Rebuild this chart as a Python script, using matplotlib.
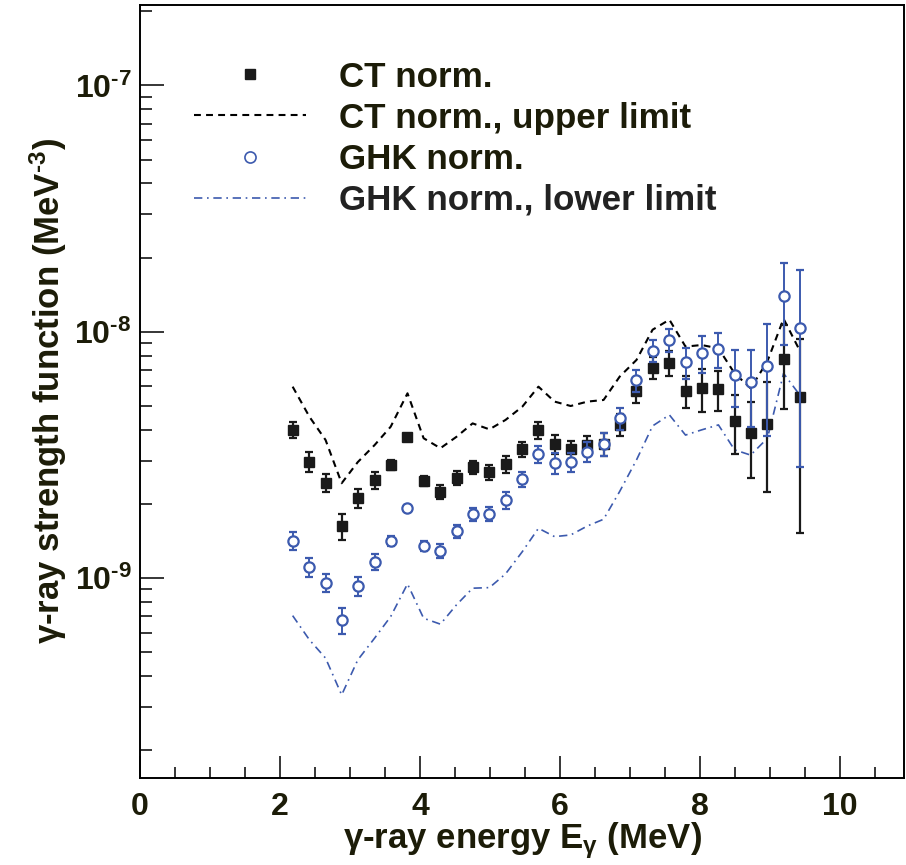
import numpy as np
import matplotlib
matplotlib.use("Agg")
import matplotlib.pyplot as plt
from matplotlib.ticker import MultipleLocator, LogLocator, FixedLocator, FuncFormatter, NullFormatter
from matplotlib.lines import Line2D

plt.rcParams["font.family"] = ["Liberation Sans", "DejaVu Sans"]
plt.rcParams["font.weight"] = "bold"
plt.rcParams["axes.labelweight"] = "bold"
plt.rcParams["mathtext.fontset"] = "custom"
plt.rcParams["mathtext.rm"] = "Liberation Sans:bold"
plt.rcParams["mathtext.default"] = "regular"

# gamma-ray energies (MeV), one per bin
energy = [2.18, 2.42, 2.65, 2.88, 3.11, 3.35, 3.58, 3.82, 4.05, 4.29, 4.52,
          4.75, 4.99, 5.22, 5.46, 5.69, 5.92, 6.15, 6.39, 6.62, 6.85, 7.09,
          7.32, 7.56, 7.79, 8.02, 8.26, 8.49, 8.72, 8.96, 9.19, 9.43]

# CT normalisation, units of 1e-9 MeV^-3
ct_val = [4.00, 2.97, 2.44, 1.63, 2.11, 2.50, 2.89, 3.75, 2.48, 2.24, 2.55,
          2.82, 2.69, 2.90, 3.34, 3.98, 3.51, 3.34, 3.47, 3.51, 4.19, 5.77,
          7.15, 7.49, 5.77, 5.90, 5.84, 4.36, 3.87, 4.23, 7.73, 5.42]
ct_err = [0.30, 0.28, 0.21, 0.20, 0.19, 0.19, 0.13, 0.10, 0.12, 0.15, 0.17,
          0.18, 0.18, 0.23, 0.23, 0.31, 0.31, 0.28, 0.32, 0.39, 0.43, 0.63,
          0.73, 0.87, 0.86, 1.16, 1.09, 1.16, 1.33, 2.00, 2.88, 3.90]
ct_upper = [5.99, 4.52, 3.64, 2.43, 2.96, 3.47, 4.12, 5.63, 3.70, 3.37, 3.75,
            4.25, 4.02, 4.39, 4.97, 5.99, 5.21, 5.00, 5.21, 5.29, 6.58, 7.69,
            10.2, 11.2, 8.71, 8.84, 8.57, 6.79, 5.90, 7.60, 11.3, 8.30]

# GHK normalisation, units of 1e-9 MeV^-3
ghk_val = [1.417, 1.111, 0.960, 0.677, 0.931, 1.164, 1.417, 1.934, 1.352,
           1.290, 1.550, 1.818, 1.823, 2.072, 2.520, 3.190, 2.940, 2.960,
           3.260, 3.510, 4.460, 6.370, 8.380, 9.260, 7.520, 8.180, 8.490,
           6.680, 6.280, 7.270, 13.97, 10.33]
ghk_err = [0.12, 0.10, 0.079, 0.082, 0.083, 0.087, 0.067, 0.05, 0.063, 0.084,
           0.10, 0.115, 0.116, 0.17, 0.18, 0.25, 0.28, 0.27, 0.31, 0.39, 0.47,
           0.65, 0.85, 1.01, 1.11, 1.40, 1.39, 1.74, 2.16, 3.50, 5.10, 7.50]
ghk_lower = [0.705, 0.562, 0.474, 0.336, 0.466, 0.571, 0.699, 0.948, 0.688,
             0.651, 0.780, 0.911, 0.916, 1.041, 1.282, 1.595, 1.475, 1.498,
             1.630, 1.735, 2.250, 3.020, 4.150, 4.600, 3.810, 4.000, 4.190,
             3.320, 3.160, 3.700, 6.780, 5.500]

y_major = [1e-9, 1e-8, 1e-7]

scale = 1e-9
E = np.array(energy)
txt = "#1c1c08"
blue = "#3c5aae"
black = "#1a1a1a"
HY = "\u2010"  # short hyphen for exponents, as in the original

fig = plt.figure(figsize=(9.06, 8.65), dpi=100)
ax = fig.add_axes([0.1545, 0.1009, 0.8433, 0.8933])

ax.plot(E, np.array(ct_upper) * scale, color="black", lw=1.5,
        dashes=[3.3, 2.5])
ax.plot(E, np.array(ghk_lower) * scale, color=blue, lw=1.2,
        dashes=[5.0, 2.8, 1.0, 2.8])

ax.errorbar(E, np.array(ct_val) * scale, yerr=np.array(ct_err) * scale,
            fmt="s", ms=6.8, color=black, mec=black, elinewidth=1.6,
            capsize=2.6, capthick=1.6, zorder=3)
ax.errorbar(E, np.array(ghk_val) * scale, yerr=np.array(ghk_err) * scale,
            fmt="o", ms=7.4, color=blue, mfc="white", mec=blue, mew=1.6,
            elinewidth=1.4, capsize=2.6, capthick=1.4, zorder=4)

ax.set_yscale("log")
ax.set_xlim(0, 10.91)
ax.set_ylim(1.55e-10, 2.12e-7)

ax.xaxis.set_major_locator(MultipleLocator(2))
ax.xaxis.set_minor_locator(MultipleLocator(0.5))
ax.yaxis.set_major_locator(FixedLocator(y_major))
ax.yaxis.set_minor_locator(LogLocator(base=10, subs=np.arange(2, 10)))
ax.yaxis.set_minor_formatter(NullFormatter())
ax.yaxis.set_major_formatter(
    FuncFormatter(lambda v, _: r"$10^{%s%d}$" % (HY, abs(round(np.log10(v))))))

ax.tick_params(which="both", direction="in", top=False, right=False,
               width=1.1, colors="black", labelcolor=txt, labelsize=23)
ax.tick_params(axis="x", which="major", length=16, pad=10)
ax.tick_params(axis="x", which="minor", length=8)
ax.tick_params(axis="y", which="major", length=17.5, pad=6)
ax.tick_params(axis="y", which="minor", length=8.5)
for s in ax.spines.values():
    s.set_linewidth(1.4)

ax.set_xlabel(r"γ-ray energy E$_{\gamma}$ (MeV)", fontsize=25,
              fontweight="bold", color=txt, labelpad=-1)
ax.set_ylabel("γ-ray strength function (MeV$^{%s3}$)" % HY, fontsize=25,
              fontweight="bold", color=txt, labelpad=4)

handles = [
    Line2D([], [], ls="none", marker="s", ms=7.5, color=black),
    Line2D([], [], color="black", lw=1.5, dashes=[3.3, 2.5]),
    Line2D([], [], ls="none", marker="o", ms=8.0, mfc="white", mec=blue,
           mew=1.2),
    Line2D([], [], color=blue, lw=1.2, dashes=[5.0, 2.8, 1.0, 2.8]),
]
labels = ["CT norm.", "CT norm., upper limit", "GHK norm.",
          "GHK norm., lower limit"]
leg = ax.legend(handles, labels, loc="upper left",
                bbox_to_anchor=(0.0707, 0.928), borderaxespad=0,
                borderpad=0, frameon=False, fontsize=25.2,
                handlelength=3.2, handletextpad=0.94, labelspacing=0.23)
for t in leg.get_texts():
    t.set_color(txt)
leg.get_texts()[3].set_color("#222222")

fig.savefig("out.png", dpi=100)
